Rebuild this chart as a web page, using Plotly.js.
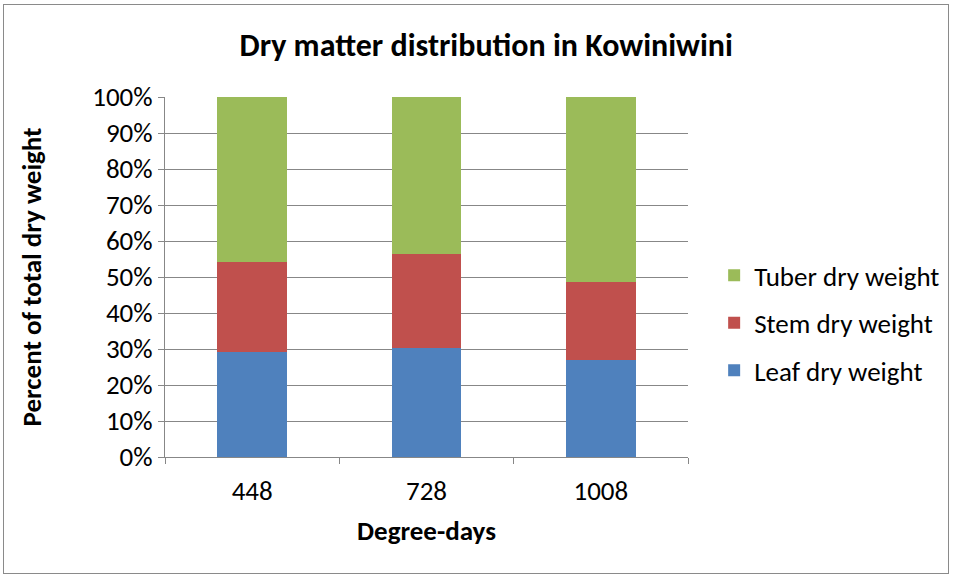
<!DOCTYPE html>
<html>
<head>
<meta charset="utf-8">
<script src="https://cdn.plot.ly/plotly-3.0.1.min.js"></script>
<style>
html,body{margin:0;padding:0;background:#fff;}
#wrap{position:relative;width:957px;height:578px;}
#chart{width:957px;height:578px;}
#frame{position:absolute;left:3px;top:4px;width:944px;height:568px;border:1px solid #8a8a8a;pointer-events:none;}
</style>
</head>
<body>
<div id="wrap"><div id="chart"></div><div id="frame"></div></div>
<script>
const categories = ["448", "728", "1008"];
const leafValues = [29.3, 30.2, 27.0];
const stemValues = [24.8, 26.3, 21.5];
const tuberValues = [45.9, 43.5, 51.5];
const seriesNames = ["Leaf dry weight", "Stem dry weight", "Tuber dry weight"];
const yTickVals = [0,10,20,30,40,50,60,70,80,90,100];
const yTickText = ["0%","10%","20%","30%","40%","50%","60%","70%","80%","90%","100%"];

const FONT = "Carlito, Lato, sans-serif";
const colors = ["#4F81BD", "#C0504D", "#9BBB59"];
const vals = [leafValues, stemValues, tuberValues];

const data = vals.map((v, i) => ({
  type: "bar",
  x: categories,
  y: v,
  name: seriesNames[i],
  legendgroup: "g" + i,
  legendrank: 3 - i,
  marker: {color: colors[i]},
  hoverinfo: "name+y"
}));

const layout = {
  width: 957, height: 578,
  margin: {l: 165, r: 265, t: 97, b: 121},
  barmode: "stack",
  bargap: 0.6,
  paper_bgcolor: "#fff",
  plot_bgcolor: "#fff",
  font: {family: FONT, size: 27, color: "#000"},
  title: {
    text: "<b>Dry matter distribution in Kowiniwini</b>",
    font: {family: FONT, size: 32, color: "#000"},
    x: 0.508, xref: "container", xanchor: "center",
    y: 0.922, yref: "container", yanchor: "middle"
  },
  xaxis: {
    type: "category",
    showline: true, linecolor: "#878787", linewidth: 1,
    ticks: "outside", tickson: "boundaries", ticklen: 6, tickcolor: "#878787",
    ticklabelstandoff: 10,
    showgrid: false,
    tickfont: {family: FONT, size: 27},
    automargin: false,
    title: {text: "<b>Degree-days</b>", font: {family: FONT, size: 27}, standoff: 14}
  },
  yaxis: {
    range: [0, 100],
    tickmode: "array",
    tickvals: yTickVals,
    ticktext: yTickText,
    showline: true, linecolor: "#878787", linewidth: 1,
    ticks: "outside", ticklen: 6, tickcolor: "#878787",
    showgrid: true, gridcolor: "#878787", gridwidth: 1,
    zeroline: false,
    automargin: false,
    tickfont: {family: FONT, size: 27},
    title: {text: "<b>Percent of total dry weight</b>", font: {family: FONT, size: 27}, standoff: 42}
  },
  legend: {
    x: 1.05, xanchor: "left",
    y: 0.372, yanchor: "middle",
    traceorder: "grouped",
    tracegroupgap: 9.5,
    font: {family: FONT, size: 27},
    bgcolor: "rgba(0,0,0,0)"
  },
  showlegend: true
};

Plotly.newPlot("chart", data, layout, {displayModeBar: false, staticPlot: true});
</script>
</body>
</html>
